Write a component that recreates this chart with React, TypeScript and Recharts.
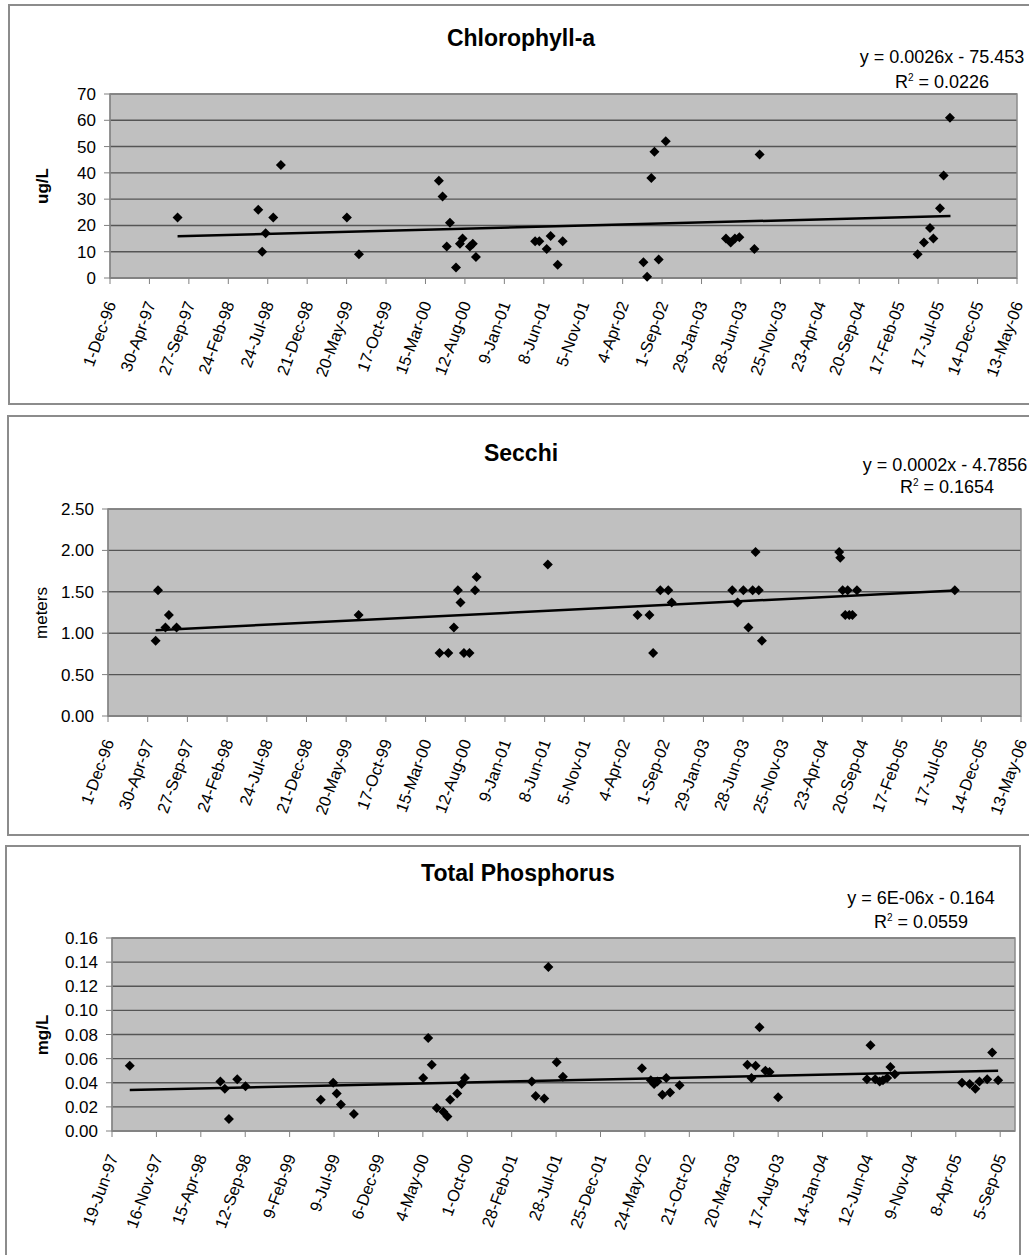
import React from 'react';
import { ScatterChart, Scatter, XAxis, YAxis, CartesianGrid, ReferenceArea } from 'recharts';

const MONTHS = ['Jan', 'Feb', 'Mar', 'Apr', 'May', 'Jun', 'Jul', 'Aug', 'Sep', 'Oct', 'Nov', 'Dec'];

// x values are Excel date serials (same as the trend equations use)
const chlDates = [35657, 35964, 35979, 35992, 36021, 36050, 36301, 36347, 36651, 36665, 36681, 36693, 36716, 36731, 36741, 36769, 36780, 36792, 37017, 37033, 37061, 37076, 37103, 37122, 37429, 37443, 37459, 37471, 37487, 37514, 37743, 37761, 37777, 37794, 37851, 37871, 38472, 38496, 38519, 38532, 38557, 38571, 38595];
const chlValues = [23, 26, 10, 17, 23, 43, 23, 9, 37, 31, 12, 21, 4, 13, 15, 12, 13, 8, 14, 14, 11, 16, 5, 14, 6, 0.5, 38, 48, 7, 52, 15, 13.5, 15, 15.5, 11, 47, 9, 13.5, 19, 15, 26.5, 39, 61];
const chlTrendDates = [35657, 38597];
const chlTrend = [15.9, 23.6];

const secDates = [35580, 35589, 35617, 35630, 35659, 36347, 36653, 36686, 36707, 36722, 36732, 36745, 36766, 36787, 36793, 37062, 37401, 37446, 37460, 37487, 37517, 37530, 37759, 37779, 37801, 37820, 37836, 37847, 37859, 37871, 38163, 38167, 38176, 38186, 38195, 38201, 38213, 38230, 38600];
const secValues = [0.91, 1.52, 1.07, 1.22, 1.07, 1.22, 0.76, 0.76, 1.07, 1.52, 1.37, 0.76, 0.76, 1.52, 1.68, 1.83, 1.22, 1.22, 0.76, 1.52, 1.52, 1.37, 1.52, 1.37, 1.52, 1.07, 1.52, 1.98, 1.52, 0.91, 1.98, 1.91, 1.52, 1.22, 1.52, 1.22, 1.22, 1.52, 1.52];
const secTrendDates = [35580, 38600];
const secTrend = [1.036, 1.515];

const tpDates = [35660, 35966, 35981, 35995, 36023, 36051, 36305, 36347, 36359, 36373, 36417, 36651, 36668, 36680, 36697, 36719, 36733, 36742, 36766, 36781, 36792, 37018, 37031, 37060, 37074, 37102, 37123, 37390, 37420, 37431, 37442, 37459, 37472, 37485, 37517, 37746, 37760, 37774, 37787, 37807, 37821, 37850, 38150, 38162, 38178, 38193, 38204, 38218, 38229, 38244, 38471, 38497, 38516, 38530, 38556, 38573, 38593];
const tpValues = [0.054, 0.041, 0.035, 0.010, 0.043, 0.037, 0.026, 0.040, 0.031, 0.022, 0.014, 0.044, 0.077, 0.055, 0.019, 0.016, 0.012, 0.026, 0.031, 0.039, 0.044, 0.041, 0.029, 0.027, 0.136, 0.057, 0.045, 0.052, 0.042, 0.039, 0.041, 0.030, 0.044, 0.032, 0.038, 0.055, 0.044, 0.054, 0.086, 0.050, 0.049, 0.028, 0.043, 0.071, 0.043, 0.041, 0.042, 0.044, 0.053, 0.047, 0.040, 0.039, 0.035, 0.041, 0.043, 0.065, 0.042];
const tpTrendDates = [35660, 38593];
const tpTrend = [0.034, 0.050];

const wideTicks = ['1-Dec-96', '30-Apr-97', '27-Sep-97', '24-Feb-98', '24-Jul-98', '21-Dec-98', '20-May-99', '17-Oct-99', '15-Mar-00', '12-Aug-00', '9-Jan-01', '8-Jun-01', '5-Nov-01', '4-Apr-02', '1-Sep-02', '29-Jan-03', '28-Jun-03', '25-Nov-03', '23-Apr-04', '20-Sep-04', '17-Feb-05', '17-Jul-05', '14-Dec-05', '13-May-06'];
const tpTicks = ['19-Jun-97', '16-Nov-97', '15-Apr-98', '12-Sep-98', '9-Feb-99', '9-Jul-99', '6-Dec-99', '4-May-00', '1-Oct-00', '28-Feb-01', '28-Jul-01', '25-Dec-01', '24-May-02', '21-Oct-02', '20-Mar-03', '17-Aug-03', '14-Jan-04', '12-Jun-04', '9-Nov-04', '8-Apr-05', '5-Sep-05'];
const tpAxisMax = '25-Oct-05';

const chlY = [0, 10, 20, 30, 40, 50, 60, 70];
const secY = [0, 0.5, 1, 1.5, 2, 2.5];
const tpY = [0, 0.02, 0.04, 0.06, 0.08, 0.1, 0.12, 0.14, 0.16];

const FONT = '"Liberation Sans", Arial, sans-serif';

const toSerial = (s: string) => {
  const [d, m, y] = s.split('-');
  const year = +y < 50 ? 2000 + +y : 1900 + +y;
  return Date.UTC(year, MONTHS.indexOf(m), +d) / 86400000 + 25569;
};
const fmtDate = (serial: number) => {
  const d = new Date((serial - 25569) * 86400000);
  return `${d.getUTCDate()}-${MONTHS[d.getUTCMonth()]}-${String(d.getUTCFullYear() % 100).padStart(2, '0')}`;
};
const pts = (xs: number[], ys: number[]) => xs.map((x, i) => ({ x, y: ys[i] }));

const Diamond = (p: any) => (
  <polygon points={`${p.cx},${p.cy - 5} ${p.cx + 5},${p.cy} ${p.cx},${p.cy + 5} ${p.cx - 5},${p.cy}`} fill="#000" />
);
const NoShape = () => <g />;

const XTick = (p: any) => (
  <g transform={`translate(${p.x + 1},${p.y + 10})`}>
    <text x={0} y={0} dy="0.35em" textAnchor="end" transform="rotate(-70)" fontSize={16.5} fill="#000" fontFamily={FONT}>
      {fmtDate(p.payload.value)}
    </text>
  </g>
);

type PanelProps = {
  top: number; height: number; margin: any;
  dates: number[]; values: number[]; trendDates: number[]; trend: number[];
  xTicks: string[]; xMax?: string; yTicks: number[]; yFmt: (v: number) => string;
};

function Panel({ top, height, margin, dates, values, trendDates, trend, xTicks, xMax, yTicks, yFmt }: PanelProps) {
  const ticks = xTicks.map(toSerial);
  const x0 = ticks[0];
  const x1 = xMax ? toSerial(xMax) : ticks[ticks.length - 1];
  const y0 = yTicks[0];
  const y1 = yTicks[yTicks.length - 1];
  return (
    <div style={{ position: 'absolute', left: 0, top }}>
      <ScatterChart width={1029} height={height} margin={margin}>
        <CartesianGrid vertical={false} fill="#c0c0c0" fillOpacity={1} stroke="#555" strokeWidth={1.4} />
        <ReferenceArea x1={x0} x2={x1} y1={y0} y2={y1} fill="none" stroke="#8a8a8a" strokeWidth={1.5} />
        <XAxis dataKey="x" type="number" domain={[x0, x1]} ticks={ticks} interval={0} height={110}
          stroke="#808080" tickSize={6} tickMargin={8} tick={<XTick />} />
        <YAxis dataKey="y" type="number" domain={[y0, y1]} ticks={yTicks} interval={0} width={60}
          stroke="#808080" tickSize={6} tickMargin={8} tickFormatter={yFmt}
          tick={{ fill: '#000', fontSize: 17, fontFamily: FONT }} />
        <Scatter data={pts(dates, values)} shape={<Diamond />} isAnimationActive={false} />
        <Scatter data={pts(trendDates, trend)} line={{ stroke: '#000', strokeWidth: 2.5 }} shape={<NoShape />} isAnimationActive={false} />
      </ScatterChart>
    </div>
  );
}

const txt = (left: number, top: number, width: number, size: number, bold: boolean, content: React.ReactNode) => (
  <div style={{ position: 'absolute', left, top, width, height: 24, textAlign: 'center', fontFamily: FONT, fontSize: size, lineHeight: '24px', fontWeight: bold ? 'bold' : 'normal', color: '#000', whiteSpace: 'nowrap' }}>
    {content}
  </div>
);
const vtxt = (cx: number, cy: number, bold: boolean, content: string) => (
  <div style={{ position: 'absolute', left: cx - 50, top: cy - 12, width: 100, height: 24, lineHeight: '24px', textAlign: 'center', transform: 'rotate(-90deg)', fontFamily: FONT, fontSize: 17, fontWeight: bold ? 'bold' : 'normal', color: '#000' }}>
    {content}
  </div>
);
const R2 = (v: string) => <>R<span style={{ fontSize: 10, lineHeight: 0, position: 'relative', top: -7 }}>2</span> = {v}</>;

export default function App() {
  const frame = { position: 'absolute' as const, border: '2px solid #8c8c8c', boxSizing: 'border-box' as const };
  const fmt2 = (v: number) => v.toFixed(2);
  return (
    <div style={{ position: 'absolute', left: 0, top: 0, width: 1029, height: 1255, background: '#fff', overflow: 'hidden' }}>
      <div style={{ ...frame, left: 8, top: 4, width: 1040, height: 401 }} />
      <div style={{ ...frame, left: 7, top: 415, width: 1040, height: 421 }} />
      <div style={{ ...frame, left: 5, top: 845, width: 1016, height: 430 }} />

      <Panel top={0} height={405} margin={{ top: 94, right: 12, bottom: 17, left: 50 }}
        dates={chlDates} values={chlValues} trendDates={chlTrendDates} trend={chlTrend}
        xTicks={wideTicks} yTicks={chlY} yFmt={(v) => String(v)} />
      <Panel top={415} height={420} margin={{ top: 94, right: 8, bottom: 9, left: 48 }}
        dates={secDates} values={secValues} trendDates={secTrendDates} trend={secTrend}
        xTicks={wideTicks} yTicks={secY} yFmt={fmt2} />
      <Panel top={845} height={410} margin={{ top: 93, right: 14, bottom: 14, left: 52 }}
        dates={tpDates} values={tpValues} trendDates={tpTrendDates} trend={tpTrend}
        xTicks={tpTicks} xMax={tpAxisMax} yTicks={tpY} yFmt={fmt2} />

      {txt(321, 26, 400, 23, true, 'Chlorophyll-a')}
      {txt(792, 45, 300, 18, false, 'y = 0.0026x - 75.453')}
      {txt(792, 70, 300, 18, false, R2('0.0226'))}
      {vtxt(43, 186, true, 'ug/L')}

      {txt(321, 441, 400, 23, true, 'Secchi')}
      {txt(795, 453, 300, 18, false, 'y = 0.0002x - 4.7856')}
      {txt(797, 475, 300, 18, false, R2('0.1654'))}
      {vtxt(42, 613, false, 'meters')}

      {txt(318, 861, 400, 23, true, 'Total Phosphorus')}
      {txt(771, 886, 300, 18, false, 'y = 6E-06x - 0.164')}
      {txt(771, 910, 300, 18, false, R2('0.0559'))}
      {vtxt(43, 1035, true, 'mg/L')}
    </div>
  );
}
